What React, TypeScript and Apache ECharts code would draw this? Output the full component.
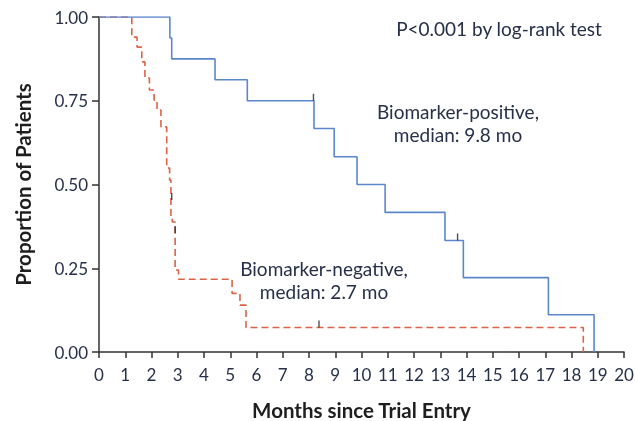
import React, { useEffect, useRef } from "react";
import * as echarts from "echarts";

const xTicks = [0, 20, 1];
const yTickLabels = ["0.00", "0.25", "0.50", "0.75", "1.00"];

// Biomarker-positive KM steps: [month, survival after event]
const positiveSteps: [number, number][] = [
  [0, 1.0],
  [2.7, 0.9375],
  [2.77, 0.875],
  [4.42, 0.8125],
  [5.65, 0.75],
  [8.19, 0.667],
  [8.96, 0.583],
  [9.83, 0.5],
  [10.9, 0.4167],
  [13.18, 0.333],
  [13.88, 0.222],
  [17.12, 0.111],
  [18.86, 0.0],
];
const positiveCensored: [number, number][] = [
  [8.17, 0.75],
  [13.66, 0.333],
];

// Biomarker-negative KM steps
const negativeSteps: [number, number][] = [
  [0, 1.0],
  [1.25, 0.94],
  [1.45, 0.91],
  [1.63, 0.866],
  [1.75, 0.818],
  [1.92, 0.782],
  [2.1, 0.752],
  [2.21, 0.722],
  [2.36, 0.672],
  [2.58, 0.549],
  [2.69, 0.513],
  [2.74, 0.4],
  [2.79, 0.388],
  [2.9, 0.245],
  [3.03, 0.217],
  [5.07, 0.175],
  [5.37, 0.14],
  [5.6, 0.073],
  [18.45, 0.0],
];
const negativeCensored: [number, number][] = [
  [2.77, 0.454],
  [2.9, 0.355],
  [8.38, 0.073],
];

const BLUE = "#5b87cc";
const RED = "#dc6347";
const TEXT = "#26304a";
const FONT = "Lato";

export default function App() {
  const ref = useRef<HTMLDivElement>(null);
  useEffect(() => {
    if (!ref.current) return;
    const chart = echarts.init(ref.current, undefined, { renderer: "svg" });
    const censorSeries = (data: [number, number][]) => ({
      type: "scatter",
      data,
      symbol: "rect",
      symbolSize: [1.4, 7],
      symbolOffset: [0, -3.5],
      itemStyle: { color: "#222" },
      z: 5,
      silent: true,
    });
    const annot = (text: string, x: number, y: number) => ({
      type: "text",
      x,
      y,
      style: {
        text,
        fontFamily: FONT,
        fontSize: 19,
        lineHeight: 23,
        fill: TEXT,
        align: "center",
        verticalAlign: "middle",
      },
    });
    chart.setOption({
      animation: false,
      textStyle: { fontFamily: FONT },
      grid: {
        left: 99,
        right: 11,
        top: 17,
        bottom: 69,
        containLabel: false,
        outerBoundsMode: "none",
      },
      xAxis: {
        type: "value",
        min: xTicks[0],
        max: xTicks[1],
        interval: xTicks[2],
        name: "Months since Trial Entry",
        nameLocation: "middle",
        nameGap: 47,
        nameTextStyle: { fontFamily: FONT, fontSize: 20.5, fontWeight: "bold", color: "#1e1e1e" },
        axisLine: { lineStyle: { color: "#333", width: 1.5 } },
        axisTick: { inside: false, length: 6, lineStyle: { color: "#333", width: 1.5 } },
        axisLabel: { fontFamily: FONT, fontSize: 17, color: TEXT, margin: 14 },
        splitLine: { show: false },
      },
      yAxis: {
        type: "value",
        min: 0,
        max: 1,
        interval: 0.25,
        name: "Proportion of Patients",
        nameLocation: "middle",
        nameGap: 66,
        nameRotate: 90,
        nameTextStyle: { fontFamily: FONT, fontSize: 20.5, fontWeight: "bold", color: "#1e1e1e" },
        axisLine: { lineStyle: { color: "#333", width: 1.5 } },
        axisTick: { inside: false, length: 7, lineStyle: { color: "#333", width: 1.5 } },
        axisLabel: {
          fontFamily: FONT,
          fontSize: 17,
          color: TEXT,
          margin: 11,
          formatter: (v: number) => yTickLabels[Math.round(v / 0.25)],
        },
        splitLine: { show: false },
      },
      series: [
        {
          type: "line",
          step: "end",
          data: negativeSteps,
          showSymbol: false,
          lineStyle: { color: RED, width: 1.6, type: [7, 4] },
          z: 2,
        },
        {
          type: "line",
          step: "end",
          data: positiveSteps,
          showSymbol: false,
          lineStyle: { color: BLUE, width: 1.6 },
          z: 3,
        },
        censorSeries(positiveCensored),
        censorSeries(negativeCensored),
      ],
      graphic: [
        annot("P<0.001 by log-rank test", 499, 28),
        annot("Biomarker-positive,\nmedian: 9.8 mo", 458, 123),
        annot("Biomarker-negative,\nmedian: 2.7 mo", 324, 280),
      ],
    });
    return () => chart.dispose();
  }, []);
  return (
    <div
      ref={ref}
      style={{ position: "fixed", left: 0, top: 0, width: 635, height: 421 }}
    />
  );
}
